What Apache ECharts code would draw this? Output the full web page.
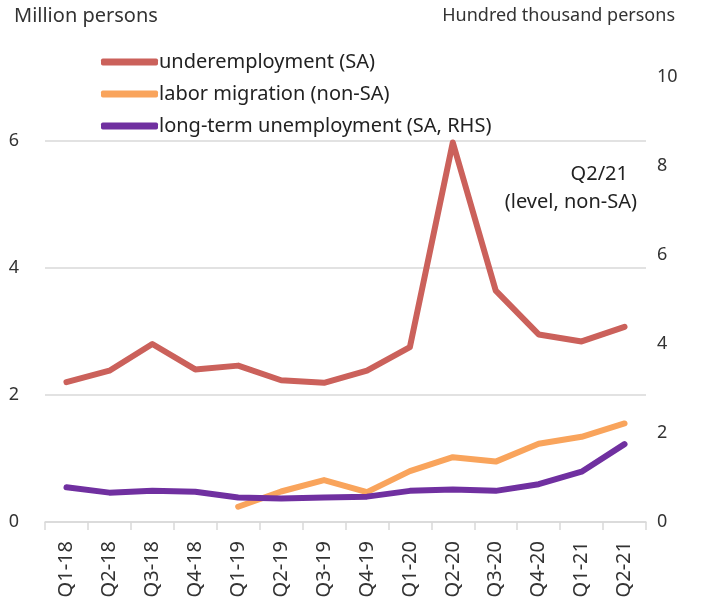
<!DOCTYPE html>
<html><head><meta charset="utf-8">
<script src="https://cdn.jsdelivr.net/npm/echarts@6/dist/echarts.min.js"></script>
<style>html,body{margin:0;padding:0;background:#fff}#c{width:702px;height:605px}</style>
</head><body><div id="c"></div>
<script>
const categories = ['Q1-18','Q2-18','Q3-18','Q4-18','Q1-19','Q2-19','Q3-19','Q4-19','Q1-20','Q2-20','Q3-20','Q4-20','Q1-21','Q2-21'];
const underemployment = [2.20, 2.38, 2.80, 2.40, 2.46, 2.23, 2.19, 2.38, 2.75, 5.97, 3.64, 2.95, 2.84, 3.07];
const laborMigration = [null, null, null, null, 0.24, 0.48, 0.66, 0.47, 0.80, 1.02, 0.95, 1.23, 1.34, 1.55];
const longTermUnemp = [0.78, 0.66, 0.70, 0.68, 0.55, 0.53, 0.55, 0.57, 0.70, 0.73, 0.70, 0.85, 1.13, 1.75];
const leftTicks = {min: 0, max: 7, interval: 2};
const rightTicks = {min: 0, max: 10, interval: 2};

const font = 'Noto Sans';
const txt = '#333333';
const chart = echarts.init(document.getElementById('c'), null, {renderer: 'canvas'});
chart.setOption({
  animation: false,
  textStyle: {fontFamily: font},
  grid: {left: 45, right: 56, top: 77, bottom: 83},
  legend: {
    left: 96, top: 47, orient: 'vertical', itemGap: 12,
    itemWidth: 57, itemHeight: 7, icon: 'roundRect',
    textStyle: {fontSize: 20, color: '#222', fontFamily: font, padding: [0,0,0,-4]},
    data: ['underemployment (SA)', 'labor migration (non-SA)', 'long-term unemployment (SA, RHS)']
  },
  graphic: [
    {type: 'text', left: 14, top: 6, style: {text: 'Million persons', fontSize: 20, fill: txt, fontFamily: font}},
    {type: 'text', right: 27, top: 7, style: {text: 'Hundred thousand persons', fontSize: 18, fill: txt, fontFamily: font}},
    {type: 'text', right: 74, top: 164, style: {text: 'Q2/21', fontSize: 20, align: 'right', fill: '#222', fontFamily: font}},
    {type: 'text', right: 65, top: 192, style: {text: '(level, non-SA)', fontSize: 20, align: 'right', fill: '#222', fontFamily: font}}
  ],
  xAxis: {
    type: 'category', data: categories, boundaryGap: true,
    axisLine: {lineStyle: {color: '#d9d9d9', width: 1.5}},
    axisTick: {show: true, length: 8, lineStyle: {color: '#d9d9d9', width: 1.5}},
    axisLabel: {rotate: 90, fontSize: 20, color: txt, margin: 19, fontFamily: font}
  },
  yAxis: [
    {type: 'value', min: leftTicks.min, max: leftTicks.max, interval: leftTicks.interval,
     axisLine: {show: false}, axisTick: {show: false},
     axisLabel: {fontSize: 18, color: txt, margin: 26, align: 'right', fontFamily: font,
       formatter: v => (v % 2 === 0 ? String(v) : '')},
     splitLine: {showMaxLine: false, lineStyle: {color: '#d9d9d9', width: 1.5}}},
    {type: 'value', min: rightTicks.min, max: rightTicks.max, interval: rightTicks.interval,
     axisLine: {show: false}, axisTick: {show: false}, splitLine: {show: false},
     axisLabel: {fontSize: 18, color: txt, margin: 11, fontFamily: font}}
  ],
  series: [
    {name: 'underemployment (SA)', type: 'line', data: underemployment, yAxisIndex: 0,
     showSymbol: false, symbol: 'none', lineStyle: {width: 6, color: '#CB615B', cap: 'round', join: 'round'}, itemStyle: {color: '#CB615B'}, z: 3},
    {name: 'labor migration (non-SA)', type: 'line', data: laborMigration, yAxisIndex: 0,
     showSymbol: false, symbol: 'none', lineStyle: {width: 6, color: '#F9A45C', cap: 'round', join: 'round'}, itemStyle: {color: '#F9A45C'}, z: 2},
    {name: 'long-term unemployment (SA, RHS)', type: 'line', data: longTermUnemp, yAxisIndex: 1,
     showSymbol: false, symbol: 'none', lineStyle: {width: 6, color: '#7030A0', cap: 'round', join: 'round'}, itemStyle: {color: '#7030A0'}, z: 4}
  ]
});
</script></body></html>
